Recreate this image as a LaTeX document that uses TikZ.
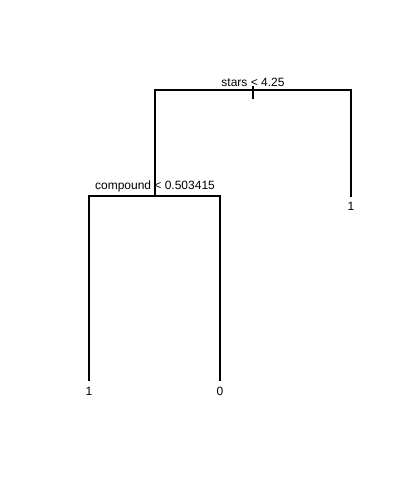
\documentclass[tikz,border=0pt]{standalone}
\usepackage{fontspec}
\setmainfont{Liberation Sans}
\usetikzlibrary{positioning}

\begin{document}
\begin{tikzpicture}[
    x=1pt, y=-1pt,
    edge/.style={line width=1.1pt, line cap=rect},
    splitlab/.style={font=\fontsize{12}{14}\selectfont, inner sep=0pt, anchor=base},
    leaflab/.style={font=\fontsize{12}{14}\selectfont, inner sep=0pt, anchor=base}
]
    \useasboundingbox (0,0) rectangle (402,490);

    % split points
    \coordinate (root) at (253,90);
    \coordinate (rootL) at (155,90);
    \coordinate (rootR) at (351,90);
    \coordinate (stubT) at (253,87);
    \coordinate (stubB) at (253,98);
    \coordinate (cmp) at (155,196);
    \coordinate (cmpL) at (89,196);
    \coordinate (cmpR) at (220,196);
    \coordinate (leafA) at (89,380);
    \coordinate (leafB) at (220,380);
    \coordinate (leafC) at (351,196);

    % labels
    \node[splitlab] (lstars) at (253,86.5) {stars < 4.25};
    \node[splitlab] (lcmp) at (155,189.5) {compound < 0.503415};
    \node[leaflab] (la) at (89,395.5) {1};
    \node[leaflab] (lb) at (220,395.5) {0};
    \node[leaflab] (lc) at (351,210.5) {1};

    % branches
    \draw[edge] (stubT) -- (stubB);
    \draw[edge] (leafC) -- (rootR) -- (rootL) -- (cmp);
    \draw[edge] (leafA) -- (cmpL) -- (cmpR) -- (leafB);
\end{tikzpicture}
\end{document}
